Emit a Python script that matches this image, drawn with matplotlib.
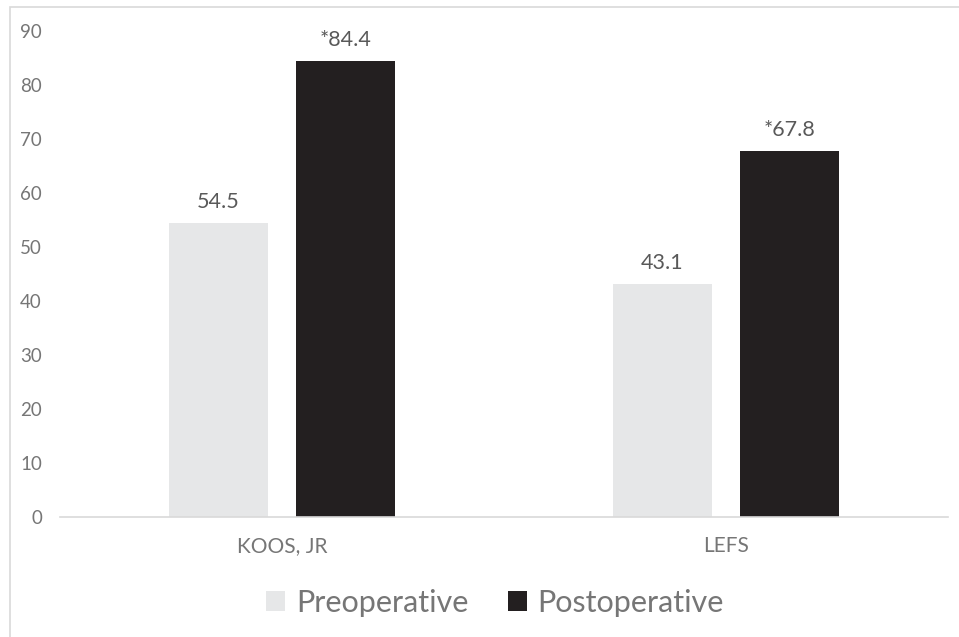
import matplotlib
matplotlib.use("Agg")
import matplotlib.pyplot as plt
from matplotlib.patches import Rectangle, Patch
import numpy as np

plt.rcParams['font.family'] = ['Lato', 'DejaVu Sans']

categories = ["KOOS, JR", "LEFS"]
preoperative = [54.5, 43.1]
postoperative = [84.4, 67.8]
pre_labels = ["54.5", "43.1"]
post_labels = ["*84.4", "*67.8"]
y_ticks = [0, 10, 20, 30, 40, 50, 60, 70, 80, 90]

W, H = 959, 637
fig = plt.figure(figsize=(W / 100, H / 100), dpi=100)
ax = fig.add_axes([60 / W, 1 - 517 / H, (948 - 60) / W, (517 - 31) / H])

x = np.arange(len(categories))
width = 0.223
offset = 0.143
pre_color = "#E6E7E8"
post_color = "#231F20"
text_color = "#595959"
tick_color = "#767676"

ax.bar(x - offset, preoperative, width, color=pre_color, label="Preoperative")
ax.bar(x + offset, postoperative, width, color=post_color, label="Postoperative")

for xi, v, s in zip(x, preoperative, pre_labels):
    ax.annotate(s, (xi - offset, v), xytext=(0, 8), textcoords="offset points",
                ha="center", va="bottom", fontsize=15.5, color=text_color)
for xi, v, s in zip(x, postoperative, post_labels):
    ax.annotate(s, (xi + offset, v), xytext=(0, 8), textcoords="offset points",
                ha="center", va="bottom", fontsize=15.5, color=text_color)

ax.set_xlim(-0.5, 1.5)
ax.set_ylim(0, 90)
ax.set_yticks(y_ticks)
ax.set_xticks(x)
ax.set_xticklabels(categories)
ax.tick_params(axis="y", length=0, pad=13, labelsize=13.5, labelcolor=tick_color)
ax.tick_params(axis="x", length=0, pad=14, labelsize=15, labelcolor=tick_color)

for side in ("left", "right", "top"):
    ax.spines[side].set_visible(False)
ax.spines["bottom"].set_color("#D9D9D9")
ax.spines["bottom"].set_linewidth(1.2)

handles = [Patch(facecolor=pre_color, label="Preoperative"),
           Patch(facecolor=post_color, label="Postoperative")]
fig.legend(handles=handles, loc="center", bbox_to_anchor=(495 / W, 1 - 603 / H),
           ncol=2, frameon=False, fontsize=22, handlelength=0.62, handleheight=0.62,
           handletextpad=0.35, columnspacing=1.3, labelcolor=tick_color)

# chart-area border
fig.add_artist(Rectangle((10 / W, -0.1), 2, 1 - 7 / H + 0.1, transform=fig.transFigure,
                         fill=False, edgecolor="#D9D9D9", linewidth=1.2))

fig.savefig("out.png", dpi=100)
